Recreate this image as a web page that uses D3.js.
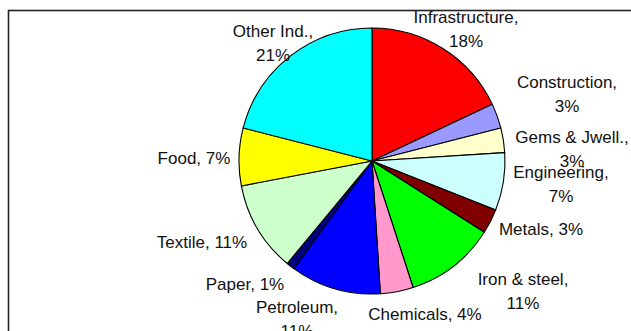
<!DOCTYPE html>
<html>
<head>
<meta charset="utf-8">
<script src="https://cdn.jsdelivr.net/npm/d3@7"></script>
<style>
  html, body { margin: 0; padding: 0; background: #fff; }
  svg { display: block; }
  text { font-family: "Liberation Sans", Arial, sans-serif; font-size: 17px; fill: #111; }
</style>
</head>
<body>
<svg id="chart" width="631" height="331"></svg>
<script>
// Sector shares (%) in clockwise order from 12 o'clock
const sectors = ["Infrastructure", "Construction", "Gems & Jwell.", "Engineering", "Metals",
  "Iron & steel", "Chemicals", "Petroleum", "Paper", "Textile", "Food", "Other Ind."];
const shares = [18, 3, 3, 7, 3, 11, 4, 11, 1, 11, 7, 21];
const colors = ["#FF0000", "#9999FF", "#FFFFCC", "#CCFFFF", "#800000",
  "#00FF00", "#FF99CC", "#0000FF", "#000080", "#CCFFCC", "#FFFF00", "#00FFFF"];
// Label lines: first line / second line (empty when the label fits on one line)
const labelLine1 = ["Infrastructure,", "Construction,", "Gems & Jwell.,", "Engineering,", "Metals, 3%",
  "Iron & steel,", "Chemicals, 4%", "Petroleum,", "Paper, 1%", "Textile, 11%", "Food, 7%", "Other Ind.,"];
const labelLine2 = ["18%", "3%", "3%", "7%", "", "11%", "", "11%", "", "", "", "21%"];
// Label anchor: center x and first baseline y
const labelPos = [[466, 23], [567, 88], [572, 143], [561, 178], [541, 235],
  [523, 285], [425, 320], [297, 313], [245, 290], [202, 248], [194, 164], [273, 37]];

const svg = d3.select("#chart");

// Plot-area frame (runs off the right and bottom edges)
svg.append("rect")
  .attr("x", 8.5).attr("y", 10.5)
  .attr("width", 700).attr("height", 400)
  .attr("fill", "none").attr("stroke", "#222").attr("stroke-width", 1.6);

const cx = 372, cy = 161, radius = 133;

const data = sectors.map((s, i) => ({ name: s, value: shares[i], color: colors[i] }));

const pie = d3.pie().value(d => d.value).sort(null);
const arc = d3.arc().innerRadius(0).outerRadius(radius);

const g = svg.append("g").attr("transform", `translate(${cx},${cy})`);
g.selectAll("path")
  .data(pie(data))
  .join("path")
  .attr("d", arc)
  .attr("fill", d => d.data.color)
  .attr("stroke", "#000")
  .attr("stroke-width", 1.1)
  .attr("stroke-linejoin", "round");

const labels = svg.append("g");
sectors.forEach((s, i) => {
  const [x, y] = labelPos[i];
  const t = labels.append("text")
    .attr("x", x).attr("y", y)
    .attr("text-anchor", "middle");
  t.append("tspan").attr("x", x).attr("y", y).text(labelLine1[i]);
  if (labelLine2[i]) {
    t.append("tspan").attr("x", x).attr("y", y + 23.5).text(labelLine2[i]);
  }
});
</script>
</body>
</html>
